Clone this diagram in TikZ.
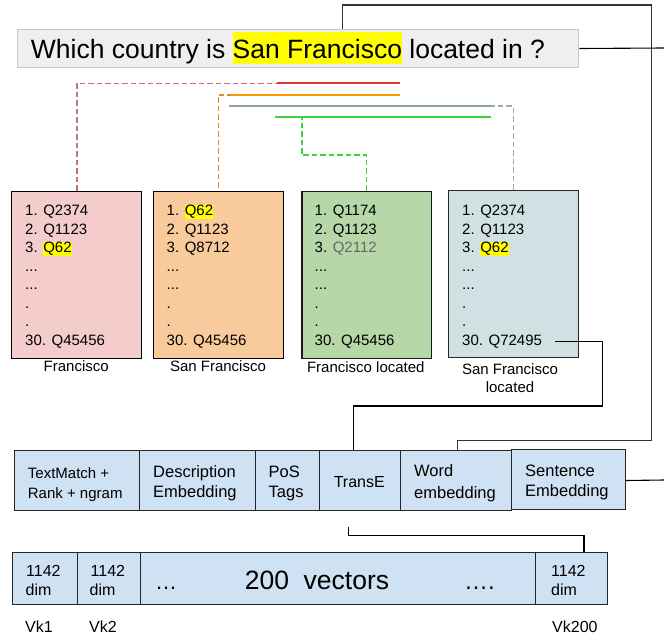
\documentclass[tikz,border=0pt]{standalone}
\usepackage{fontspec}
\setmainfont{Liberation Sans}
\definecolor{qfill}{HTML}{EFEFEF}
\definecolor{qdraw}{HTML}{C8C8C8}
\definecolor{pinkf}{HTML}{F4CCCC}
\definecolor{orangef}{HTML}{F9CB9C}
\definecolor{greenf}{HTML}{B6D7A8}
\definecolor{bluef}{HTML}{D0E0E3}
\definecolor{featf}{HTML}{CFE2F3}
\definecolor{redl}{HTML}{E03535}
\definecolor{redd}{HTML}{C47070}
\definecolor{orl}{HTML}{FF9900}
\definecolor{ord}{HTML}{E08C2E}
\definecolor{grl}{HTML}{8CA3A9}
\definecolor{grd}{HTML}{97ADB3}
\definecolor{gnl}{HTML}{3CD33C}
\definecolor{hly}{HTML}{FFFF00}
\definecolor{connc}{HTML}{333333}
\newcommand\hlt[1]{{\setlength{\fboxsep}{0pt}\colorbox{hly}{\rule[-3pt]{0pt}{14pt}#1}}}
\newcommand\hlq[1]{{\setlength{\fboxsep}{0pt}\colorbox{hly}{\rule[-5.7pt]{0pt}{31.7pt}#1}}}
\tikzset{
  listbox/.style={draw=black, line width=1pt, inner sep=0pt, anchor=north west, minimum width=129.7pt, minimum height=167pt},
  featbox/.style={draw=black!85, fill=featf, line width=1pt, inner sep=0pt, anchor=north west, minimum height=60pt},
  vecbox/.style={draw=black!85, fill=featf, line width=1pt, inner sep=0pt, anchor=north west, minimum height=52.3pt},
  lst/.style={anchor=base west, inner sep=0pt, font=\fontsize{15}{18}\selectfont},
  lbl/.style={anchor=base, inner sep=0pt, font=\fontsize{15}{18}\selectfont},
  ftxt/.style={anchor=base west, inner sep=0pt, font=\fontsize{16.5}{20}\selectfont},
  stxt/.style={anchor=base west, inner sep=0pt, font=\fontsize{15}{18}\selectfont},
  vtxt/.style={anchor=base west, inner sep=0pt, font=\fontsize{16}{20}\selectfont},
  conn/.style={draw=connc, line width=1.1pt},
  solidc/.style={line width=1.7pt},
  dashc/.style={line width=1.6pt, dash pattern=on 5.5pt off 3pt}
}
\begin{document}
\begin{tikzpicture}[x=1pt,y=-1pt]
\useasboundingbox (0,0) rectangle (664,640);

% question
\node[draw=qdraw, fill=qfill, line width=1pt, inner sep=0pt, anchor=north west, minimum width=561pt, minimum height=38.6pt] (q) at (17.3,28.7) {};
\node[anchor=base west, inner sep=0pt, font=\fontsize{26.5}{30}\selectfont] (qt) at (30.7,58.3) {Which country is \hlq{San Francisco} located in ?};

% list boxes
\node[listbox, fill=pinkf] (b1) at (11.4,190.7) {};
\node[listbox, fill=orangef] (b2) at (153,190.7) {};
\node[listbox, fill=greenf, draw=black!90, line width=1.5pt] (b3) at (301,190.7) {};
\node[listbox, fill=bluef, draw=black!85] (b4) at (448,189.5) {};

\foreach \bx/\xx/\la/\lb/\lc/\ld in {1/25/Q2374/Q1123/\hlt{Q62}/Q45456, 2/166.5/\hlt{Q62}/Q1123/Q8712/Q45456, 3/314.5/Q1174/Q1123/{\color{black!60}Q2112}/Q45456, 4/462/Q2374/Q1123/\hlt{Q62}/Q72495} {
  \node[lst] (t\bx-1) at (\xx,215.7) {1. \la};
  \node[lst] (t\bx-2) at (\xx,234.2) {2. \lb};
  \node[lst] (t\bx-3) at (\xx,252.7) {3. \lc};
  \node[lst] (t\bx-4) at (\xx,271.2) {...};
  \node[lst] (t\bx-5) at (\xx,289.7) {...};
  \node[lst] (t\bx-6) at (\xx,308.2) {.};
  \node[lst] (t\bx-7) at (\xx,326.7) {.};
  \node[lst] (t\bx-8) at (\xx,345.2) {30. \ld};
}

% labels under list boxes
\node[lbl] (l1) at (76.2,371) {Francisco};
\node[lbl] (l2) at (218,371.5) {San Francisco};
\node[lbl] (l3) at (365.8,372) {Francisco located};
\node[lbl] (l4a) at (510,374.5) {San Francisco};
\node[lbl] (l4b) at (510,392.7) {located};

% coloured span lines
\draw[dashc, draw=redd] (b1.north) |- (276.7,83.3);
\draw[solidc, draw=redl] (276.7,83.3) -- (400,83.3);
\draw[dashc, draw=ord] ([yshift=3pt]b2.north) |- (231,94.7);
\draw[solidc, draw=orl] (231,94.7) -- (400,94.7);
\draw[dashc, draw=grd] (b4.north) |- (490.7,106);
\draw[solidc, draw=grl] (229,106) -- (490.7,106);
\draw[dashc, draw=gnl] (b3.north) |- (301.7,155) -- (301.7,117);
\draw[solidc, draw=gnl] (275,117) -- (490.7,117);

% feature boxes
\node[featbox, minimum width=125pt] (f1) at (14,450) {};
\node[featbox, minimum width=115.7pt] (f2) at (139,450) {};
\node[featbox, minimum width=64.3pt] (f3) at (254.7,450) {};
\node[featbox, minimum width=80.6pt] (tr) at (319,450) {};
\node[featbox, minimum width=111.8pt] (word) at (399.6,450) {};
\node[featbox, minimum width=113.6pt] (sent) at (511.4,449) {};

\node[stxt] (f1a) at (27.7,478.1) {TextMatch +};
\node[stxt] (f1b) at (27.7,498.1) {Rank + ngram};
\node[ftxt] (f2a) at (153,477.8) {Description};
\node[ftxt] (f2b) at (153,497.8) {Embedding};
\node[ftxt] (f3a) at (268.5,477.8) {PoS};
\node[ftxt] (f3b) at (268.5,497.8) {Tags};
\node[anchor=base, inner sep=0pt, font=\fontsize{16}{20}\selectfont] (f4a) at (359.3,487.5) {TransE};
\node[ftxt] (f5a) at (414,476.5) {Word};
\node[ftxt] (f5b) at (414,498.3) {embedding};
\node[ftxt] (f6a) at (525,476.7) {Sentence};
\node[ftxt] (f6b) at (525,496.7) {Embedding};

% vector bar
\node[vecbox, minimum width=65pt] (v1) at (11.7,551.7) {};
\node[vecbox, minimum width=63.3pt] (v2) at (76.7,551.7) {};
\node[vecbox, minimum width=395pt] (vm) at (140,551.7) {};
\node[vecbox, minimum width=72pt] (v3) at (535,551.7) {};

\node[vtxt] (v1a) at (26,576) {1142};
\node[vtxt] (v1b) at (25.5,595) {dim};
\node[vtxt] (v2a) at (90.5,576) {1142};
\node[vtxt] (v2b) at (89.5,595) {dim};
\node[vtxt] (v3a) at (551,576) {1142};
\node[vtxt] (v3b) at (551,595) {dim};
\node[anchor=base, inner sep=0pt, font=\fontsize{26.5}{30}\selectfont] (vmt) at (317,589) {200\ \ vectors};
\node[anchor=base, inner sep=0pt, font=\fontsize{22}{26}\selectfont] (vd1) at (166,589) {…};
\node[anchor=base, inner sep=0pt, font=\fontsize{24}{28}\selectfont] (vd2) at (479.5,589) {….};

\node[vtxt] (k1) at (25,632) {Vk1};
\node[vtxt] (k2) at (89,632) {Vk2};
\node[vtxt] (k3) at (552,632) {Vk200};

% connectors
\coordinate (ctr) at (651.7,5);
\coordinate (cbr) at (651.7,440.5);
\draw[conn] ([xshift=325.4pt]q.north west) |- (ctr) -- (cbr) -| ([xshift=1.2pt]word.north);
\coordinate (qout) at (664,48);
\draw[conn, draw=black] (q.east) -- (qout);
\coordinate (sout) at (664,480);
\draw[conn, draw=black] ([yshift=-1pt]sent.east) -- (sout);
\coordinate (cq) at (602.3,406);
\draw[conn, draw=black] ([xshift=13pt]t4-8.east) -| (cq) -| ([xshift=-6.5pt]tr.north);
\coordinate (tb) at (348.3,527);
\draw[conn, draw=black] (tb) -- ++(0,8.7) -| ([xshift=12.5pt]v3.north);
\end{tikzpicture}
\end{document}
